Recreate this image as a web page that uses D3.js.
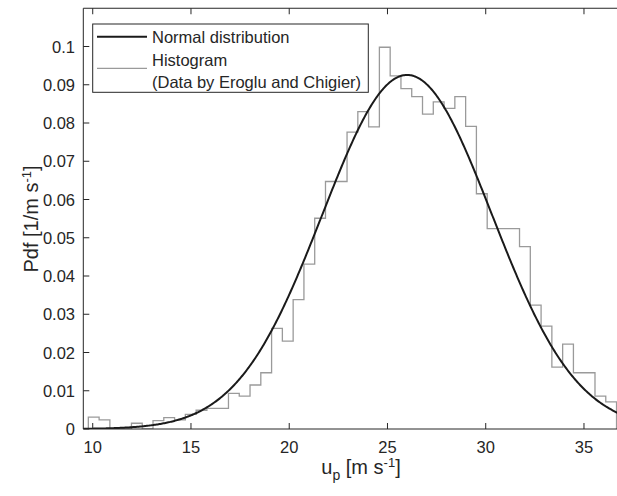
<!DOCTYPE html>
<html>
<head>
<meta charset="utf-8">
<script src="https://cdn.jsdelivr.net/npm/d3@7"></script>
<style>
  body { margin: 0; background: #fff; }
  text { font-family: "Liberation Sans", Arial, Helvetica, sans-serif; fill: #262626; }
</style>
</head>
<body>
<div id="chart"></div>
<script>
// size of the picture and the axes box
const width = 617,
    height = 496;

// histogram of the measured velocities (Eroglu and Chigier), pdf per bin
const binStart = 9.776;
const binWidth = 0.5486;
const histPdf = [0.0031, 0.0024, 0, 0, 0.0015, 0, 0.0022, 0.003, 0.0024, 0.0038,
  0.0049, 0.0054, 0.0054, 0.0093, 0.0086, 0.0115, 0.0147, 0.0263, 0.023, 0.0338,
  0.0431, 0.0551, 0.0647, 0.0647, 0.0776, 0.083, 0.079, 0.0998, 0.0923, 0.089,
  0.0869, 0.0823, 0.0855, 0.0838, 0.0869, 0.0791, 0.0615, 0.0524, 0.0524, 0.0524,
  0.0477, 0.0324, 0.0269, 0.0162, 0.0222, 0.0147, 0.0147, 0.0086, 0.0071];

// fitted normal distribution
const normalMean = 26.0;
const normalStd = 4.31;

// tick labels
const xTicks = [10, 15, 20, 25, 30, 35];
const yTicks = [0, 0.01, 0.02, 0.03, 0.04, 0.05, 0.06, 0.07, 0.08, 0.09, 0.1];
const yTickLabels = ["0", "0.01", "0.02", "0.03", "0.04", "0.05", "0.06", "0.07", "0.08", "0.09", "0.1"];

const plot = {left: 83.3, top: 8.25, right: 639, bottom: 429};

const x = d3.scaleLinear().domain([9.52, 37.8]).range([plot.left, plot.right]);
const y = d3.scaleLinear().domain([0, 0.11]).range([plot.bottom, plot.top]);

const svg = d3.select("#chart")
  .append("svg")
    .attr("width", width)
    .attr("height", height);

svg.append("defs").append("clipPath")
    .attr("id", "clip")
  .append("rect")
    .attr("x", plot.left)
    .attr("y", plot.top)
    .attr("width", plot.right - plot.left)
    .attr("height", plot.bottom - plot.top);

const inner = svg.append("g").attr("clip-path", "url(#clip)");

// stairs outline of the histogram
const stairs = [[binStart, 0]];
histPdf.forEach(function(v, i) {
  stairs.push([binStart + i * binWidth, v]);
  stairs.push([binStart + (i + 1) * binWidth, v]);
});
stairs.push([binStart + histPdf.length * binWidth, 0]);

const line = d3.line()
  .x(d => x(d[0]))
  .y(d => y(d[1]));

inner.append("path")
    .attr("d", line(stairs))
    .attr("fill", "none")
    .attr("stroke", "#9a9a9a")
    .attr("stroke-width", 1.3);

// normal pdf curve
const curve = d3.range(9.5, 38.01, 0.05).map(function(u) {
  const z = (u - normalMean) / normalStd;
  return [u, Math.exp(-0.5 * z * z) / (normalStd * Math.sqrt(2 * Math.PI))];
});

inner.append("path")
    .attr("d", line(curve))
    .attr("fill", "none")
    .attr("stroke", "#1a1a1a")
    .attr("stroke-width", 2);

// axes box lines (bottom, left, top)
const axisColor = "#262626";
svg.append("line")
    .attr("x1", plot.left).attr("x2", plot.right)
    .attr("y1", plot.bottom).attr("y2", plot.bottom)
    .attr("stroke", axisColor);
svg.append("line")
    .attr("x1", plot.left).attr("x2", plot.right)
    .attr("y1", plot.top).attr("y2", plot.top)
    .attr("stroke", axisColor);
svg.append("line")
    .attr("x1", plot.left).attr("x2", plot.left)
    .attr("y1", plot.top).attr("y2", plot.bottom)
    .attr("stroke", axisColor);

const tickLen = 6;

// x ticks, bottom and top
svg.selectAll(".xtick")
  .data(xTicks)
  .join("line")
    .attr("x1", d => x(d)).attr("x2", d => x(d))
    .attr("y1", plot.bottom).attr("y2", plot.bottom - tickLen)
    .attr("stroke", axisColor);
svg.selectAll(".xticktop")
  .data(xTicks)
  .join("line")
    .attr("x1", d => x(d)).attr("x2", d => x(d))
    .attr("y1", plot.top).attr("y2", plot.top + tickLen)
    .attr("stroke", axisColor);
svg.selectAll(".xlabel")
  .data(xTicks)
  .join("text")
    .attr("x", d => x(d))
    .attr("y", 453)
    .attr("text-anchor", "middle")
    .attr("font-size", 16.5)
    .text(d => d);

// y ticks
svg.selectAll(".ytick")
  .data(yTicks)
  .join("line")
    .attr("x1", plot.left).attr("x2", plot.left + tickLen)
    .attr("y1", d => y(d)).attr("y2", d => y(d))
    .attr("stroke", axisColor);
svg.selectAll(".ylabel")
  .data(yTicks)
  .join("text")
    .attr("x", 75)
    .attr("y", d => y(d) + 6)
    .attr("text-anchor", "end")
    .attr("font-size", 16.5)
    .text((d, i) => yTickLabels[i]);

// axis titles
const xTitle = svg.append("text")
    .attr("x", 361)
    .attr("y", 474)
    .attr("text-anchor", "middle")
    .attr("font-size", 20);
xTitle.append("tspan").text("u");
xTitle.append("tspan").attr("font-size", 14).attr("dy", 6).text("p");
xTitle.append("tspan").attr("dy", -6).text(" [m s");
xTitle.append("tspan").attr("font-size", 13).attr("dy", -7).text("-1");
xTitle.append("tspan").attr("dy", 7).text("]");

const yTitle = svg.append("text")
    .attr("transform", "translate(38, 219) rotate(-90)")
    .attr("text-anchor", "middle")
    .attr("font-size", 20);
yTitle.append("tspan").text("Pdf [1/m s");
yTitle.append("tspan").attr("font-size", 13).attr("dy", -7).text("-1");
yTitle.append("tspan").attr("dy", 7).text("]");

// legend
const legend = svg.append("g");
legend.append("rect")
    .attr("x", 92.7).attr("y", 24)
    .attr("width", 275.6).attr("height", 68.3)
    .attr("fill", "#fff")
    .attr("stroke", axisColor);
legend.append("line")
    .attr("x1", 97).attr("x2", 147).attr("y1", 36.7).attr("y2", 36.7)
    .attr("stroke", "#1a1a1a").attr("stroke-width", 2);
legend.append("line")
    .attr("x1", 97).attr("x2", 147).attr("y1", 68.3).attr("y2", 68.3)
    .attr("stroke", "#9a9a9a").attr("stroke-width", 1.3);
legend.selectAll(".legendLabels")
  .data(["Normal distribution", "Histogram", "(Data by Eroglu and Chigier)"])
  .join("text")
    .attr("x", 152)
    .attr("y", (d, i) => 43.3 + i * 22.4)
    .attr("font-size", 16.5)
    .text(d => d);
</script>
</body>
</html>
